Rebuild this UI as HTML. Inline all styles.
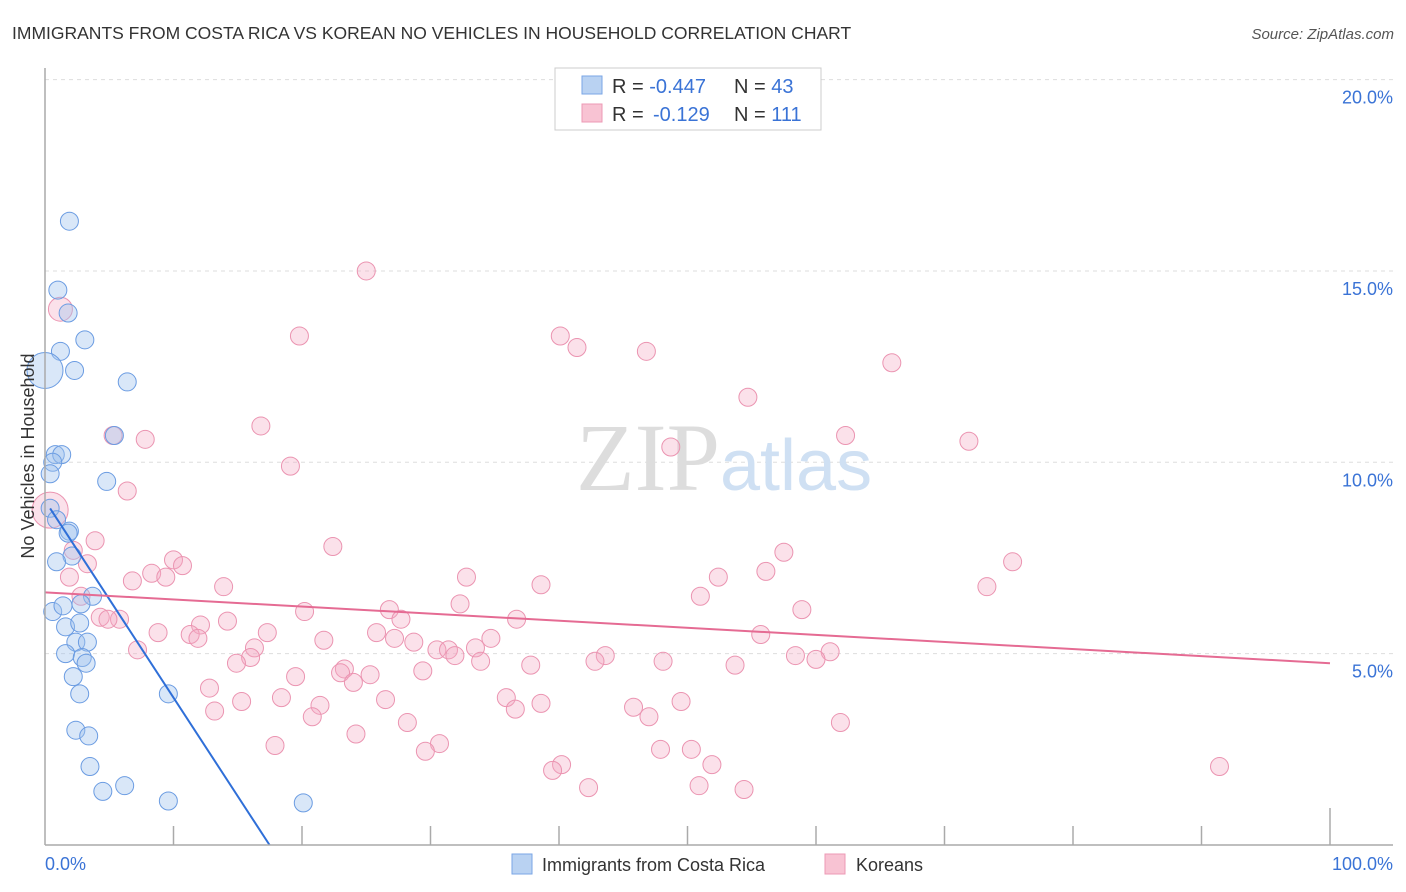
<!DOCTYPE html>
<html><head><meta charset="utf-8">
<style>
body{margin:0;background:#fff;font-family:"Liberation Sans",sans-serif;}
#wrap{position:relative;width:1406px;height:892px;overflow:hidden;}
</style></head>
<body>
<div id="wrap">
<svg id="svg" width="1406" height="892" xmlns="http://www.w3.org/2000/svg">
<text x="12" y="39" font-size="17.5" fill="#333">IMMIGRANTS FROM COSTA RICA VS KOREAN NO VEHICLES IN HOUSEHOLD CORRELATION CHART</text>
<text x="1394" y="39" font-size="15" fill="#555" font-style="italic" text-anchor="end">Source: ZipAtlas.com</text>
<g id="grid"></g>
<text x="720" y="490" font-size="96" fill="#ddd" font-family="Liberation Serif,serif" text-anchor="end">ZIP</text>
<text x="720" y="490" font-size="72" fill="#cfe0f3" text-anchor="start">atlas</text>
<g id="pts"></g>
<g id="lines"></g>
<g id="axes"></g>
<text transform="translate(34,456) rotate(-90)" font-size="18" fill="#333" text-anchor="middle">No Vehicles in Household</text>
<g>
<rect x="555" y="68" width="266" height="62" fill="#fff" stroke="#ccc"/>
<rect x="582" y="76" width="20" height="18" fill="#b9d2f2" stroke="#7aa6e6"/>
<rect x="582" y="104" width="20" height="18" fill="#f8c3d3" stroke="#ec9ab4"/>
<text x="612" y="93" font-size="20" fill="#333">R = <tspan fill="#3a73d6">-0.447</tspan><tspan x="734">N = </tspan><tspan fill="#3a73d6">43</tspan></text>
<text x="612" y="121" font-size="20" fill="#333">R = <tspan x="653" fill="#3a73d6">-0.129</tspan><tspan x="734">N = </tspan><tspan fill="#3a73d6">111</tspan></text>
</g>
<g>
<rect x="512" y="854" width="20" height="20" fill="#b9d2f2" stroke="#7aa6e6"/>
<text x="542" y="871" font-size="18" fill="#333">Immigrants from Costa Rica</text>
<rect x="825" y="854" width="20" height="20" fill="#f8c3d3" stroke="#ec9ab4"/>
<text x="856" y="871" font-size="18" fill="#333">Koreans</text>
</g>
</svg>
</div>
<script>
const yTicks=[5,10,15,20];
const yTickLabels=["5.0%","10.0%","15.0%","20.0%"];
const xTickLabels=["0.0%","100.0%"];
const blueX=[1.9,1.0,1.8,3.1,1.2,2.3,0,6.4,5.4,0.8,1.3,0.6,0.4,4.8,0.4,0.9,1.9,1.8,2.1,0.9,3.7,0.6,1.4,2.8,1.6,2.7,2.4,3.3,1.6,2.9,3.2,2.2,2.7,9.6,2.4,3.4,3.5,4.5,6.2,9.6,20.1];
const blueY=[16.3,14.5,13.9,13.2,12.9,12.4,12.4,12.1,10.7,10.2,10.2,10.0,9.7,9.5,8.8,8.5,8.2,8.15,7.55,7.4,6.5,6.1,6.25,6.3,5.7,5.8,5.3,5.3,5.0,4.9,4.75,4.4,3.95,3.95,3.0,2.85,2.05,1.4,1.55,1.15,1.1];
const blueBig=[0,0,0,0,0,0,18,0,0,0,0,0,0,0,0,0,0,0,0,0,0,0,0,0,0,0,0,0,0,0,0,0,0,0,0,0,0,0,0,0,0];
const pinkX=[25.0,1.2,19.8,40.1,41.4,46.8,65.9,54.7,16.8,5.3,7.8,62.3,71.9,48.7,19.1,6.4,0.4,3.9,22.4,2.2,57.5,75.3,3.3,10.0,10.7,8.3,56.1,1.9,9.4,32.8,52.4,6.8,38.6,13.9,73.3,51.0,2.8,32.3,20.2,26.8,58.9,4.3,5.8,4.9,27.7,36.7,14.2,12.1,8.8,17.3,25.8,11.3,11.9,55.7,21.7,27.2,28.7,34.7,16.3,7.2,30.5,31.4,33.5,31.9,43.6,58.4,61.1,60.0,16.0,14.9,33.9,42.8,48.1,53.7,37.8,29.4,23.3,23.0,25.3,19.5,24.0,12.8,35.9,18.4,26.5,15.3,38.6,49.5,21.4,36.6,45.8,13.2,20.8,47.0,28.2,61.9,24.2,30.7,17.9,29.6,47.9,50.3,40.2,51.9,39.5,91.4,42.3,50.9,54.4];
const pinkY=[15.0,14.0,13.3,13.3,13.0,12.9,12.6,11.7,10.95,10.7,10.6,10.7,10.55,10.4,9.9,9.25,8.75,7.95,7.8,7.7,7.65,7.4,7.35,7.45,7.3,7.1,7.15,7.0,7.0,7.0,7.0,6.9,6.8,6.75,6.75,6.5,6.5,6.3,6.1,6.15,6.15,5.95,5.9,5.9,5.9,5.9,5.85,5.75,5.55,5.55,5.55,5.5,5.4,5.5,5.35,5.4,5.3,5.4,5.15,5.1,5.1,5.1,5.15,4.95,4.95,4.95,5.05,4.85,4.9,4.75,4.8,4.8,4.8,4.7,4.7,4.55,4.6,4.5,4.45,4.4,4.25,4.1,3.85,3.85,3.8,3.75,3.7,3.75,3.65,3.55,3.6,3.5,3.35,3.35,3.2,3.2,2.9,2.65,2.6,2.45,2.5,2.5,2.1,2.1,1.95,2.05,1.5,1.55,1.45];
const pinkBig={1:12,16:18};
const blueTrend=[9.0,-0.515];
const pinkTrend=[6.6,-0.0185];

const NS="http://www.w3.org/2000/svg";
const X0=45,X1=1330,Y0=845,PXPCT=38.27;
function xs(p){return X0+(X1-X0)*p/100;}
function ys(v){return Y0-PXPCT*v;}
function mk(t,a,parent){const e=document.createElementNS(NS,t);for(const k in a)e.setAttribute(k,a[k]);parent.appendChild(e);return e;}
const grid=document.getElementById('grid'),axes=document.getElementById('axes'),pts=document.getElementById('pts'),lines=document.getElementById('lines');
yTicks.forEach((v,i)=>{
 const l=mk('line',{x1:X0,x2:1393,y1:ys(v),y2:ys(v),stroke:'#ddd','stroke-dasharray':'4,4'},grid);
 
 
 const t=mk('text',{x:1393,y:ys(v)+24,'font-size':18,fill:'#3a73d6','text-anchor':'end'},axes);
 t.textContent=yTickLabels[i];
 
 
});
let a=mk('line',{x1:X0,x2:X0,y1:68,y2:Y0,stroke:'#aaa','stroke-width':1.5},axes);


a=mk('line',{x1:X0,x2:1393,y1:Y0,y2:Y0,stroke:'#aaa','stroke-width':1.5},axes);


for(let p=10;p<=100;p+=10){
 const tk=mk('line',{x1:xs(p),x2:xs(p),y1:p==100?808:826,y2:Y0,stroke:'#aaa','stroke-width':1.5},axes);
 
 
}
[[0,'start',45],[100,'end',1393]].forEach((d,i)=>{
 const t=mk('text',{x:d[2],y:870,'font-size':18,fill:'#3a73d6','text-anchor':d[1]},axes);
 t.textContent=xTickLabels[i];
 
 
});
pinkX.forEach((x,i)=>{
 const c=mk('circle',{cx:xs(x),cy:ys(pinkY[i]),r:pinkBig[i]||9,fill:'rgba(244,170,195,0.35)',stroke:'#eb94b1','stroke-width':1},pts);
 
 
});
blueX.forEach((x,i)=>{
 const c=mk('circle',{cx:xs(x),cy:ys(blueY[i]),r:blueBig[i]||9,fill:'rgba(160,195,238,0.4)',stroke:'#6b9ce2','stroke-width':1},pts);
 
 
});
const bEnd=-blueTrend[0]/blueTrend[1];
let ln=mk('line',{x1:xs(0.4),y1:ys(blueTrend[0]+blueTrend[1]*0.4),x2:xs(bEnd),y2:ys(0),stroke:'#2f6fd8','stroke-width':2},lines);


ln=mk('line',{x1:xs(0),y1:ys(pinkTrend[0]),x2:xs(100),y2:ys(pinkTrend[0]+pinkTrend[1]*100),stroke:'#e56b93','stroke-width':2},lines);


</script>
</body></html>
